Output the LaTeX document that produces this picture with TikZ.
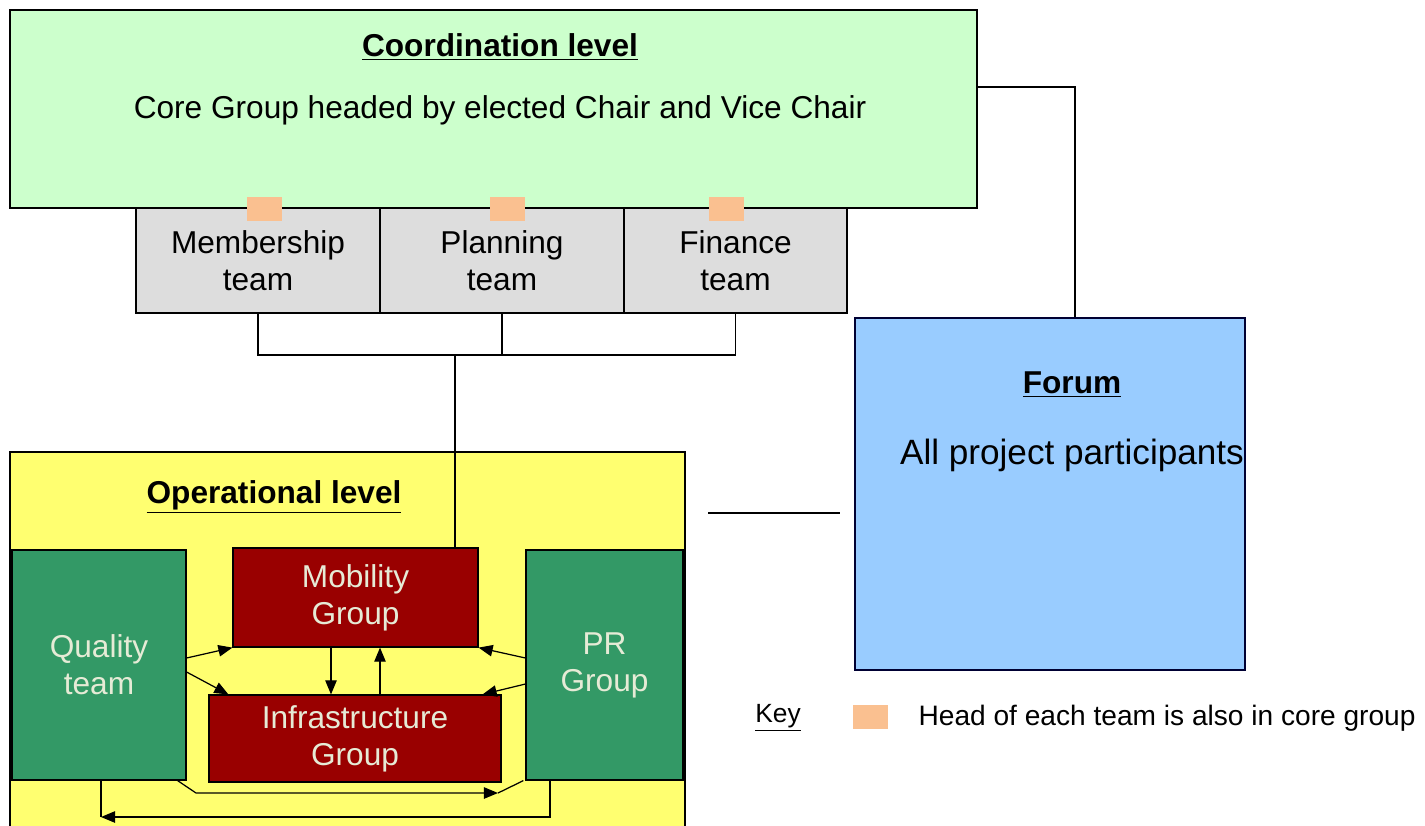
\documentclass[tikz,border=0pt]{standalone}
\usepackage{fontspec}
\setmainfont{Liberation Sans}
\usetikzlibrary{arrows.meta}
\definecolor{coordgreen}{HTML}{CCFFCC}
\definecolor{teamgrey}{HTML}{DDDDDD}
\definecolor{headorange}{HTML}{FAC090}
\definecolor{forumblue}{HTML}{99CCFF}
\definecolor{operyellow}{HTML}{FFFF70}
\definecolor{groupgreen}{HTML}{339966}
\definecolor{groupred}{HTML}{990000}
\definecolor{paletext}{HTML}{E6EBD6}

\begin{document}
\begin{tikzpicture}[x=0.02cm,y=-0.02cm,line width=0.7pt,
  box/.style={draw=black,line width=0.7pt,inner sep=0pt,align=center,font=\fontsize{18}{21}\selectfont},
  txt/.style={inner sep=0pt,align=center,font=\fontsize{18}{21}\selectfont},
  head/.style={fill=headorange,inner sep=0pt,minimum width=0.7cm,minimum height=0.48cm},
  arr/.style={-{Triangle[length=8pt,width=6.5pt]}}]

  \fill[white] (0,0) rectangle (1425,825);
  \useasboundingbox (0,0) rectangle (1425,825);

  % coordination level and its teams
  \node[box,fill=coordgreen,minimum width=19.34cm,minimum height=3.96cm] (coord) at (493.5,109) {};
  \node[txt] (coordtitle) at (500,47) {\textbf{\underline{Coordination level}}};
  \node[txt] (coordtext) at (500,110) {Core Group headed by elected Chair and Vice Chair};
  \node[box,fill=teamgrey,minimum width=4.88cm,minimum height=2.1cm] (member) at (258,260.5) {Membership\\team};
  \node[box,fill=teamgrey,minimum width=4.88cm,minimum height=2.1cm] (planning) at (502,260.5) {Planning\\team};
  \node[box,fill=teamgrey,minimum width=4.46cm,minimum height=2.1cm] (finance) at (735.5,260.5) {Finance\\team};
  \node[head] (headM) at (264,209) {};
  \node[head] (headP) at (507,209) {};
  \node[head] (headF) at (726,209) {};

  % forum
  \node[box,draw=black!80!blue,fill=forumblue,minimum width=7.8cm,minimum height=7.04cm] (forum) at (1050,494) {};
  \node[txt] (forumtitle) at (1072,385) {\textbf{\underline{Forum}}};
  \node[txt,font=\fontsize{20}{24}\selectfont] (forumtext) at (1072,455) {All project participants};

  % operational level
  \node[box,fill=operyellow,minimum width=13.5cm,minimum height=7.56cm] (oper) at (347.5,641) {};
  \node[txt] (opertitle) at (274,497) {\textbf{\underline{Operational level}}};
  \node[box,fill=groupgreen,text=paletext,minimum width=3.48cm,minimum height=4.6cm] (quality) at (99,665) {Quality\\team};
  \node[box,fill=groupgreen,text=paletext,minimum width=3.14cm,minimum height=4.6cm] (pr) at (604.5,665) {PR\\Group};
  \node[box,fill=groupred,text=paletext,minimum width=4.9cm,minimum height=1.98cm] (mobility) at (355.5,597.5) {Mobility\\Group};
  \node[box,fill=groupred,text=paletext,minimum width=5.84cm,minimum height=1.74cm] (infra) at (355,738.5) {Infrastructure\\Group};

  % key
  \node[txt,font=\fontsize{15}{18}\selectfont] (keylabel) at (778,718) {\underline{Key}};
  \node[head] (keyhead) at (870,717) {};
  \node[txt,anchor=west,font=\fontsize{16}{19}\selectfont] (keytext) at (918,718) {Head of each team is also in core group};

  % connectors
  \coordinate (join) at (455,355);
  \draw (coord.east |- 0,87) -| (forum.north -| 1075,0);
  \draw (member.south) |- (finance.south |- join) -- (finance.south);
  \draw (planning.south) -- (planning.south |- join);
  \draw (join) -- (mobility.north -| join);
  \coordinate (stubA) at (708,513);
  \coordinate (stubB) at (840,513);
  \draw (stubA) -- (stubB);

  \draw[arr] (quality.east |- 0,658) -- (mobility.south west);
  \draw[arr] (quality.east |- 0,672) -- ([xshift=0.4cm]infra.north west);
  \draw[arr] (pr.west |- 0,658) -- (mobility.south east);
  \draw[arr] (pr.west |- 0,684) -- ([xshift=-0.38cm]infra.north east);
  \draw[arr] (mobility.south -| 331,0) -- (infra.north -| 331,0);
  \draw[arr] (infra.north -| 380,0) -- (mobility.south -| 380,0);

  \coordinate (lowtip) at (498,793);
  \draw[arr] ([xshift=-0.18cm]quality.south east) -- (196,793) -- (lowtip);
  \draw (lowtip) -- ([xshift=-0.04cm]pr.south west);
  \coordinate (loopend) at (101,817);
  \draw[arr] (pr.south -| 550,0) |- (loopend);
  \draw (quality.south -| loopend) -- (loopend);

\end{tikzpicture}
\end{document}
